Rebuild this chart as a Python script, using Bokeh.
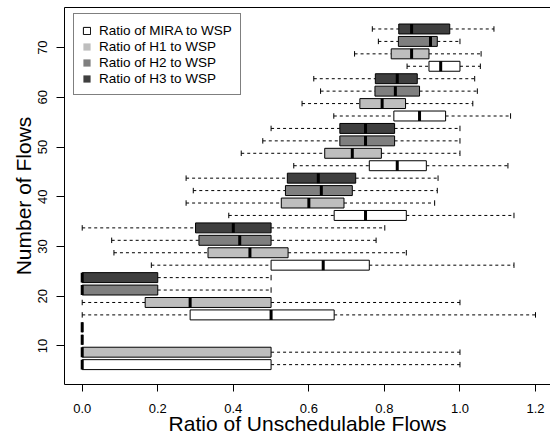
from bokeh.plotting import figure
from bokeh.models import Range1d, ColumnDataSource, FixedTicker, LinearAxis, Legend, LegendItem
from bokeh.embed import file_html
from bokeh.resources import INLINE

# ---------------- data ----------------
flows = [10, 20, 30, 40, 50, 60, 70]
series_names = ["Ratio of MIRA to WSP", "Ratio of H1 to WSP",
                "Ratio of H2 to WSP", "Ratio of H3 to WSP"]

mira_lo  = [0.0, 0.0,    0.183, 0.388, 0.560, 0.666, 0.860]
mira_q1  = [0.0, 0.2857, 0.500, 0.667, 0.760, 0.825, 0.918]
mira_med = [0.0, 0.500,  0.638, 0.750, 0.834, 0.893, 0.949]
mira_q3  = [0.5, 0.667,  0.760, 0.858, 0.911, 0.962, 1.000]
mira_hi  = [1.0, 1.200,  1.143, 1.143, 1.127, 1.134, 1.054]

h1_lo  = [0.0, 0.0,    0.084, 0.275, 0.421, 0.582, 0.721]
h1_q1  = [0.0, 0.1667, 0.333, 0.527, 0.642, 0.735, 0.818]
h1_med = [0.0, 0.2857, 0.444, 0.600, 0.715, 0.794, 0.872]
h1_q3  = [0.5, 0.500,  0.545, 0.693, 0.792, 0.856, 0.918]
h1_hi  = [1.0, 1.000,  0.858, 0.933, 1.000, 1.034, 1.056]

h2_lo  = [0.0, 0.0, 0.078, 0.294, 0.478, 0.631, 0.784]
h2_q1  = [0.0, 0.0, 0.309, 0.538, 0.682, 0.775, 0.837]
h2_med = [0.0, 0.0, 0.417, 0.633, 0.750, 0.829, 0.922]
h2_q3  = [0.0, 0.2, 0.500, 0.715, 0.827, 0.893, 0.940]
h2_hi  = [0.0, 0.5, 0.778, 0.940, 1.000, 1.046, 1.000]

h3_lo  = [0.0, 0.0, 0.000, 0.275, 0.500, 0.613, 0.768]
h3_q1  = [0.0, 0.0, 0.300, 0.543, 0.682, 0.776, 0.838]
h3_med = [0.0, 0.0, 0.400, 0.625, 0.750, 0.834, 0.872]
h3_q3  = [0.0, 0.2, 0.500, 0.724, 0.827, 0.887, 0.973]
h3_hi  = [0.0, 0.5, 0.801, 0.942, 1.000, 1.039, 1.090]

x_ticks = [0.0, 0.2, 0.4, 0.6, 0.8, 1.0, 1.2]
x_tick_labels = ["0.0", "0.2", "0.4", "0.6", "0.8", "1.0", "1.2"]
y_ticks = [10, 20, 30, 40, 50, 60, 70]
y_tick_labels = ["10", "20", "30", "40", "50", "60", "70"]

series_stats = [
    (mira_lo, mira_q1, mira_med, mira_q3, mira_hi),
    (h1_lo, h1_q1, h1_med, h1_q3, h1_hi),
    (h2_lo, h2_q1, h2_med, h2_q3, h2_hi),
    (h3_lo, h3_q1, h3_med, h3_q3, h3_hi),
]

# ---------------- style ----------------
fills = ["#FFFFFF", "#BEBEBE", "#7F7F7F", "#3F3F3F"]
offsets = [-3.75, -1.25, 1.25, 3.75]
box_h = 2.0
cap_h = 1.1
FONT = "Liberation Sans"

p = figure(width=550, height=440,
           x_range=Range1d(-0.0469, 1.2397), y_range=Range1d(2.254, 78.07),
           output_backend="svg", toolbar_location=None,
           min_border_left=64, min_border_right=0, min_border_top=7, min_border_bottom=56)
p.outline_line_color = None
p.xgrid.visible = False
p.ygrid.visible = False
p.background_fill_color = "white"
p.border_fill_color = "white"

items = []
for k, (name, stats) in enumerate(zip(series_names, series_stats)):
    lo, q1, med, q3, hi = stats
    pos = [f + offsets[k] for f in flows]
    src = ColumnDataSource(dict(
        pos=pos, lo=lo, q1=q1, med=med, q3=q3, hi=hi,
        b0=[y - box_h / 2 for y in pos], b1=[y + box_h / 2 for y in pos],
        c0=[y - cap_h / 2 for y in pos], c1=[y + cap_h / 2 for y in pos]))
    p.segment("lo", "pos", "q1", "pos", source=src, line_color="black",
              line_width=1, line_dash="3 3")
    p.segment("q3", "pos", "hi", "pos", source=src, line_color="black",
              line_width=1, line_dash="3 3")
    p.segment("lo", "c0", "lo", "c1", source=src, line_color="black", line_width=1)
    p.segment("hi", "c0", "hi", "c1", source=src, line_color="black", line_width=1)
    box_fill = p.hbar(y="pos", left="q1", right="q3", height=box_h, source=src,
                      fill_color=fills[k], line_color=None)
    box_line = p.hbar(y="pos", left="q1", right="q3", height=box_h, source=src,
                      fill_color=None, line_color="black", line_width=1)
    p.segment("med", "b0", "med", "b1", source=src, line_color="black",
              line_width=3, line_cap="butt")
    rs = [box_fill, box_line] if k == 0 else [box_fill]
    items.append(LegendItem(label=name, renderers=rs, index=0))

# axes
xa = p.xaxis[0]
xa.ticker = FixedTicker(ticks=x_ticks)
xa.major_label_overrides = {t: l for t, l in zip(x_ticks, x_tick_labels)}
xa.minor_tick_line_color = None
xa.major_tick_in = 0
xa.major_tick_out = 7
xa.major_label_standoff = 12
xa.major_label_text_font = FONT
xa.major_label_text_font_size = "13px"
xa.major_label_text_color = "black"
xa.axis_label = "Ratio of Unschedulable Flows"
xa.axis_label_text_font = FONT
xa.axis_label_text_font_size = "21px"
xa.axis_label_text_font_style = "normal"
xa.axis_label_text_color = "black"
xa.axis_label_standoff = -4
xa.axis_line_color = "black"
xa.major_tick_line_color = "black"

ya = p.yaxis[0]
ya.ticker = FixedTicker(ticks=y_ticks)
ya.major_label_overrides = {t: l for t, l in zip(y_ticks, y_tick_labels)}
ya.minor_tick_line_color = None
ya.major_tick_in = 0
ya.major_tick_out = 8
ya.major_label_standoff = 9
ya.major_label_orientation = "vertical"
ya.major_label_text_font = FONT
ya.major_label_text_font_size = "13px"
ya.major_label_text_color = "black"
ya.axis_label = "Number of Flows"
ya.axis_label_text_font = FONT
ya.axis_label_text_font_size = "21px"
ya.axis_label_text_font_style = "normal"
ya.axis_label_text_color = "black"
ya.axis_label_standoff = 1
ya.axis_line_color = "black"
ya.major_tick_line_color = "black"

top_axis = LinearAxis(ticker=FixedTicker(ticks=[]), major_tick_line_color=None,
                      minor_tick_line_color=None, major_tick_out=0, major_tick_in=0,
                      major_label_standoff=0, axis_line_color="black")
p.add_layout(top_axis, "above")

legend = Legend(items=items, location=(9, 289), padding=8, spacing=0,
                glyph_width=9, glyph_height=9, label_height=16, label_standoff=8,
                label_text_font=FONT, label_text_font_size="13.5px",
                label_text_color="black", margin=0,
                border_line_color="black", border_line_width=1,
                background_fill_color="white", background_fill_alpha=1.0)
p.add_layout(legend)

open("out.html", "w").write(file_html(p, INLINE))
